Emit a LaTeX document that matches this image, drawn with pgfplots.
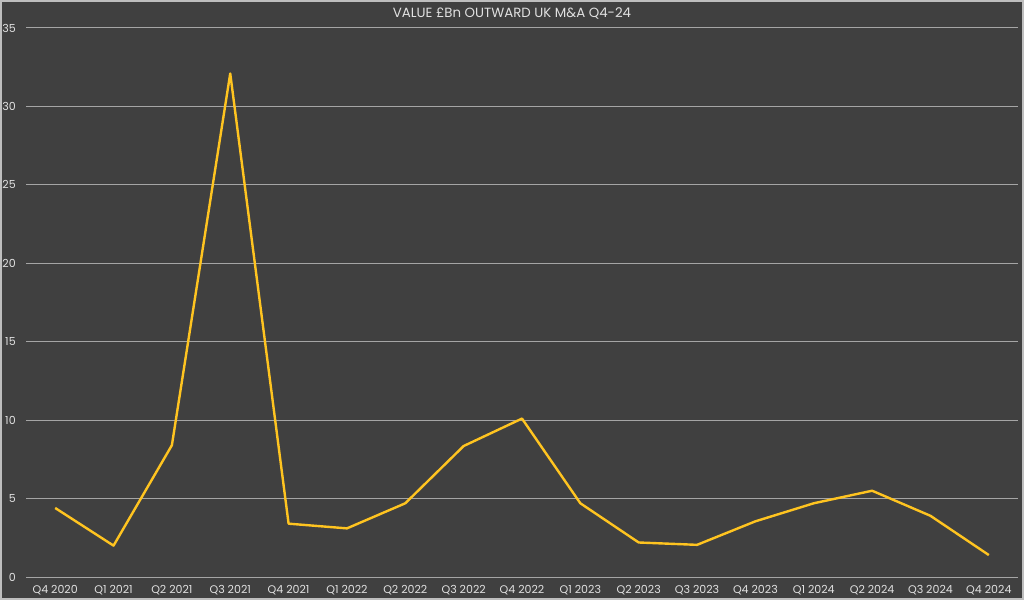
\documentclass[border=0pt]{standalone}
\usepackage{pgfplots}
\pgfplotsset{compat=1.18}
\usepackage{fontspec}
\setmainfont{Poppins}
\definecolor{bg}{RGB}{64,64,64}
\definecolor{gridc}{RGB}{165,165,165}
\definecolor{lbl}{RGB}{225,225,225}
\definecolor{gold}{RGB}{255,196,32}
\definecolor{framec}{RGB}{190,190,190}
\begin{document}
\begin{tikzpicture}[x=1pt,y=1pt]
\useasboundingbox (0,0) rectangle (768,450);
\fill[bg] (0,0) rectangle (768,450);
\draw[framec,line width=1.2pt] (0.6,0.6) rectangle (767.4,449.4);
\node[font=\fontsize{10}{12}\selectfont, text=lbl, anchor=center] at (384,440) {VALUE £Bn OUTWARD UK M\&A Q4-24};
\begin{axis}[
  at={(19.5pt,17.25pt)}, anchor=south west,
  scale only axis, width=744pt, height=411.75pt,
  xmin=-0.5, xmax=16.5, ymin=0, ymax=35,
  xtick={0,...,16},
  xticklabels={Q4 2020,Q1 2021,Q2 2021,Q3 2021,Q4 2021,Q1 2022,Q2 2022,Q3 2022,Q4 2022,Q1 2023,Q2 2023,Q3 2023,Q4 2023,Q1 2024,Q2 2024,Q3 2024,Q4 2024},
  ytick={0,5,...,35},
  axis line style={draw=none},
  major tick length=0pt,
  xmajorgrids=false,
  ymajorgrids=true, 
  major grid style={draw=gridc, line width=0.75pt},
  tick label style={font=\fontsize{8.3}{9}\selectfont, text=lbl},
  /pgf/number format/assume math mode=true,
  yticklabel style={anchor=east, inner sep=0pt, xshift=-7.5pt},
  xticklabel style={anchor=north, inner sep=0pt, yshift=-6pt},
  clip=false,
]
\addplot[gold, line width=1.8pt, line join=round] coordinates {
(0,4.4) (1,2.0) (2,8.4) (3,32.1) (4,3.4) (5,3.1) (6,4.7) (7,8.35) (8,10.1)
(9,4.7) (10,2.2) (11,2.05) (12,3.55) (13,4.7) (14,5.5) (15,3.9) (16,1.4)
};
\end{axis}
\end{tikzpicture}
\end{document}
